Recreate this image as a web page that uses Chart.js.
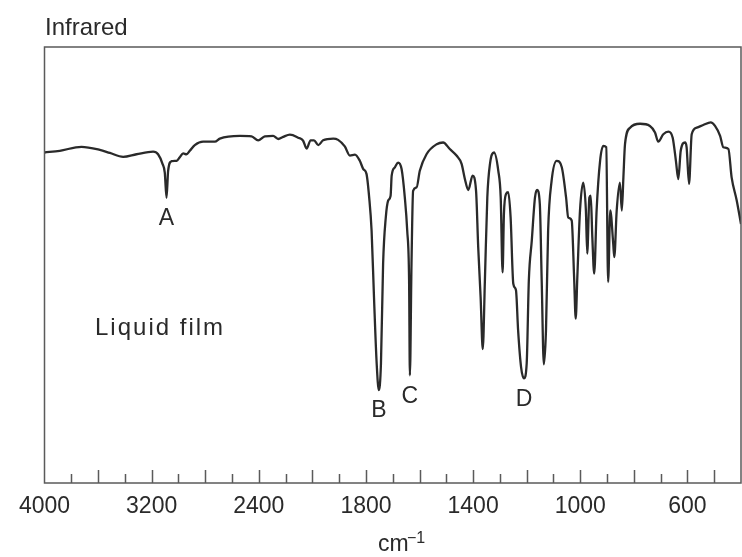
<!DOCTYPE html>
<html>
<head>
<meta charset="utf-8">
<script src="https://cdn.jsdelivr.net/npm/chart.js@4.4.1/dist/chart.umd.min.js"></script>
<style>
  html, body { margin: 0; padding: 0; background: #fff; }
</style>
</head>
<body>
<canvas id="irChart" width="742" height="557"></canvas>
<script>
// IR spectrum, wavenumber (cm-1) vs transmittance (%)
const wavenumbers = [
  4000, 3886, 3724, 3587, 3512, 3413, 3313, 3189, 3152, 3119,
  3102, 3089, 3077, 3052, 3014, 2990, 2965, 2940, 2915, 2878,
  2816, 2728, 2691, 2541, 2454, 2405, 2355, 2293, 2255, 2218,
  2168, 2106, 2069, 2043, 2013, 1994, 1978, 1960, 1922, 1904,
  1879, 1860, 1841, 1823, 1810, 1798, 1788, 1779, 1770, 1760,
  1752, 1744, 1736, 1726, 1717, 1708, 1704, 1692, 1680, 1667,
  1655, 1646, 1639, 1636, 1630, 1624, 1611, 1599, 1574, 1536,
  1512, 1487, 1462, 1443, 1431, 1418, 1402, 1389, 1381, 1372,
  1364, 1356, 1347, 1337, 1322, 1306, 1297, 1290, 1285, 1277,
  1269, 1260, 1250, 1240, 1232, 1221, 1210, 1200, 1192, 1181,
  1169, 1161, 1151, 1144, 1136, 1128, 1120, 1107, 1088, 1069,
  1053, 1045, 1032, 1023, 1017, 1011, 1001, 989, 979, 974,
  966, 961, 955, 948, 939, 926, 914, 903, 896, 888,
  877, 873, 864, 852, 845, 839, 833, 814, 777, 740,
  721, 709, 690, 671, 655, 643, 634, 625, 609, 603,
  594, 584, 565, 541, 513, 497, 478, 466, 447, 435,
  416, 400
];
const transmittance = [
  75.8, 76.2, 77.1, 76.4, 75.7, 74.8, 75.4, 76.0, 75.4, 73.2,
  71.2, 65.4, 71.6, 73.8, 73.9, 74.7, 75.6, 75.4, 76.2, 77.5,
  78.3, 78.3, 79.0, 79.6, 79.5, 78.6, 79.5, 79.6, 78.9, 79.4,
  79.9, 79.2, 78.5, 76.7, 78.6, 78.6, 77.5, 78.6, 79.0, 78.7,
  77.2, 75.1, 75.3, 73.9, 72.0, 70.9, 65.5, 57.9, 42.6, 27.4,
  21.3, 27.4, 50.3, 60.9, 64.8, 65.9, 70.5, 72.4, 73.5, 72.0,
  65.5, 57.9, 46.5, 24.7, 50.3, 67.0, 67.8, 71.6, 75.4, 77.7,
  78.1, 76.6, 75.1, 73.2, 69.8, 67.2, 70.5, 67.0, 54.1, 42.6,
  30.7, 46.5, 65.5, 73.2, 75.8, 71.6, 65.5, 48.3, 61.7, 66.3,
  66.7, 60.9, 45.7, 44.2, 35.0, 26.6, 24.0, 27.4, 46.5, 55.6,
  65.5, 67.2, 64.0, 46.5, 27.2, 35.0, 57.9, 69.3, 73.9, 72.4,
  65.5, 60.9, 60.2, 47.2, 37.7, 47.2, 62.5, 68.9, 62.5, 52.6,
  65.5, 65.9, 56.4, 48.0, 62.5, 73.9, 77.3, 77.0, 46.1, 62.5,
  54.9, 51.8, 62.5, 68.9, 62.5, 70.1, 77.7, 81.5, 82.4, 81.9,
  80.4, 78.3, 80.0, 80.6, 79.2, 73.9, 69.7, 76.2, 78.1, 77.0,
  68.6, 80.0, 81.5, 82.1, 82.7, 81.9, 79.6, 77.0, 76.6, 70.1,
  64.8, 59.4
];

// labelled positions on the wavenumber axis
const labelledWavenumbers = [4000, 3200, 2400, 1800, 1400, 1000, 600];

// marked bands
const bandNames = ['A', 'B', 'C', 'D'];
const bandWavenumbers = [3089, 1752, 1636, 1210];
const bandMinima = [65.4, 21.3, 24.7, 24.0];

const FONT = '"Liberation Sans", Arial, Helvetica, sans-serif';
const INK = '#2a2a2a';
const FRAME = '#5a5a5a';

// axis is 200 cm-1 per division above 2000, 100 cm-1 per division below
const toAxis = w => w >= 2000 ? (4000 - w) / 200 : 10 + (2000 - w) / 100;
const fromAxis = u => u <= 10 ? 4000 - 200 * u : 2000 - 100 * (u - 10);

const points = wavenumbers.map((w, i) => ({ x: toAxis(w), y: transmittance[i] }));

const frameAndMarks = {
  id: 'frameAndMarks',
  afterDraw(chart) {
    const { ctx, chartArea: a, scales: { x, y } } = chart;
    ctx.save();

    ctx.strokeStyle = FRAME;
    ctx.lineWidth = 1.5;
    ctx.strokeRect(a.left, a.top, a.right - a.left, a.bottom - a.top);

    // tick marks stand up inside the frame
    ctx.beginPath();
    for (let u = 1; u < 26; u++) {
      const px = Math.round(x.getPixelForValue(u)) + 0.5;
      const len = (u % 2 === 0 || u === 25) ? 13 : 9;
      ctx.moveTo(px, a.bottom);
      ctx.lineTo(px, a.bottom - len);
    }
    ctx.stroke();

    ctx.fillStyle = INK;
    ctx.font = '24px ' + FONT;
    ctx.textAlign = 'left';
    ctx.textBaseline = 'alphabetic';
    ctx.fillText('Infrared', 45, 35);
    ctx.letterSpacing = '2px';
    ctx.fillText('Liquid film', 95, 335);
    ctx.letterSpacing = '0px';

    ctx.font = '23px ' + FONT;
    ctx.textAlign = 'center';
    ctx.textBaseline = 'middle';
    bandNames.forEach((name, i) => {
      const px = x.getPixelForValue(toAxis(bandWavenumbers[i]));
      const py = y.getPixelForValue(bandMinima[i]);
      ctx.fillText(name, px, py + 21);
    });

    // unit under the axis
    ctx.textAlign = 'left';
    ctx.textBaseline = 'alphabetic';
    ctx.fillText('cm', 378, 551);
    ctx.font = '16px ' + FONT;
    ctx.fillText('\u22121', 407, 543);

    ctx.restore();
  }
};

new Chart(document.getElementById('irChart'), {
  type: 'line',
  data: {
    datasets: [{
      label: 'Infrared',
      data: points,
      borderColor: INK,
      borderWidth: 2.3,
      pointRadius: 0,
      fill: false,
      cubicInterpolationMode: 'monotone'
    }]
  },
  options: {
    responsive: false,
    animation: false,
    layout: { padding: { left: 44.5, right: 1, top: 47, bottom: 0 } },
    plugins: {
      legend: { display: false },
      tooltip: { enabled: false }
    },
    scales: {
      x: {
        type: 'linear',
        min: 0,
        max: 26,
        afterFit: scale => {
          scale.height = 74;
          scale.paddingLeft = 0;
          scale.paddingRight = 0;
        },
        grid: { drawOnChartArea: false, drawTicks: false },
        border: { display: false },
        ticks: {
          stepSize: 1,
          autoSkip: false,
          maxRotation: 0,
          padding: 10,
          color: INK,
          font: { family: FONT, size: 23 },
          callback: v => {
            const w = fromAxis(v);
            return labelledWavenumbers.includes(w) ? String(w) : '';
          }
        }
      },
      y: {
        display: false,
        min: 0,
        max: 100
      }
    }
  },
  plugins: [frameAndMarks]
});
</script>
</body>
</html>
